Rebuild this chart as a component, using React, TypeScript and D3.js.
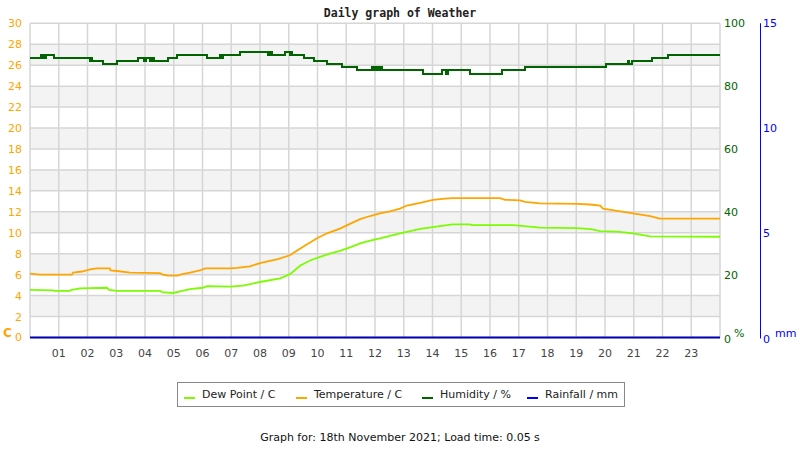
import React from "react";
import * as d3 from "d3";

// ---------- data ----------
const hourTicks = ["01","02","03","04","05","06","07","08","09","10","11","12","13","14","15","16","17","18","19","20","21","22","23"];
const tempTicks = [0,2,4,6,8,10,12,14,16,18,20,22,24,26,28,30];
const humTicks = [0,20,40,60,80,100];
const rainTicks = [0,5,10,15];

const tempTimes = [0,0.35,1.46,1.5,1.81,2.09,2.33,2.78,2.8,3.03,3.48,4.52,4.62,4.8,5.15,5.22,5.57,5.91,6.09,6.96,7.2,7.65,8.0,8.3,8.59,9.04,9.29,9.64,10.0,10.33,10.78,11.13,11.48,11.83,12.17,12.52,12.87,13.11,13.57,14.02,14.43,14.7,16.35,16.52,17.04,17.22,17.74,19.03,19.48,19.83,19.93,20.42,20.97,21.57,21.91,24];
const tempValues = [6.1,6.0,6.0,6.2,6.3,6.5,6.6,6.6,6.4,6.35,6.2,6.15,6.0,5.9,5.9,6.0,6.2,6.4,6.6,6.6,6.65,6.8,7.1,7.3,7.45,7.85,8.3,8.9,9.5,9.95,10.4,10.85,11.3,11.6,11.85,12.05,12.3,12.6,12.85,13.15,13.25,13.3,13.3,13.15,13.1,12.95,12.8,12.75,12.7,12.6,12.3,12.1,11.85,11.6,11.35,11.35];

const dewTimes = [0,0.8,0.85,1.39,1.45,1.74,2.68,2.75,3.03,4.52,4.62,4.98,5.22,5.57,6.0,6.16,6.96,7.41,8.0,8.7,9.04,9.22,9.39,9.74,10.09,10.43,10.78,11.13,11.48,11.83,12.17,12.52,12.87,13.22,13.57,14.26,14.7,15.3,15.37,16.8,17.74,19.03,19.51,19.83,20.42,20.97,21.57,24];
const dewValues = [4.55,4.5,4.45,4.45,4.55,4.7,4.75,4.55,4.45,4.45,4.3,4.25,4.4,4.62,4.75,4.9,4.85,4.95,5.3,5.65,6.05,6.45,6.85,7.35,7.7,8.0,8.28,8.6,8.98,9.25,9.46,9.7,9.94,10.15,10.38,10.64,10.8,10.8,10.73,10.73,10.5,10.45,10.35,10.15,10.1,9.94,9.65,9.62];

const humTimes = [0,0.38,0.42,0.44,0.47,0.49,0.52,0.54,0.84,2.09,2.12,2.16,2.54,3.03,3.76,3.97,4.03,4.17,4.24,4.31,4.8,5.11,6.16,6.61,6.63,6.66,6.68,6.71,7.3,8.28,8.3,8.33,8.36,8.4,8.87,9.04,9.07,9.1,9.53,9.88,10.33,10.85,11.37,11.9,11.97,12.03,12.1,12.17,12.24,13.67,14.33,14.47,14.53,15.3,16.42,17.22,20.03,20.8,20.84,20.94,21.63,22.19,24];
const humValues = [89,90,89,90,89,90,89,90,89,88,89,88,87,88,89,88,89,88,89,88,89,90,89,90,89,90,89,90,91,90,91,90,91,90,91,90,91,90,89,88,87,86,85,86,85,86,85,86,85,84,85,84,85,84,85,86,87,88,87,88,89,90,90];

const rainTimes = [0,24];
const rainValues = [0,0];

const legendItems = ["Dew Point / C","Temperature / C","Humidity / %","Rainfall / mm"];
const seriesColors = ["#7cfc00","#ffa500","#006400","#0000ff"];

// ---------- layout ----------
const W = 800, H = 450;
const L = 30, R = 720, T = 23.3, B = 337.5;
const font = "DejaVu Sans, Verdana, sans-serif";

export default function App() {
  const x = d3.scaleLinear().domain([0, 24]).range([L, R]);
  const yT = d3.scaleLinear().domain([0, 30]).range([B, T]);
  const yH = d3.scaleLinear().domain([0, 100]).range([B, T]);
  const yR = d3.scaleLinear().domain([0, 15]).range([B, T]);

  const mk = (times: number[], vals: number[], ys: d3.ScaleLinear<number, number>, curve: any) =>
    d3.line<number>().x((_, i) => x(times[i])).y((v) => ys(v)).curve(curve)(vals) || "";

  const tempPath = mk(tempTimes, tempValues, yT, d3.curveLinear);
  const dewPath = mk(dewTimes, dewValues, yT, d3.curveLinear);
  const humPath = mk(humTimes, humValues, yH, d3.curveStepAfter);
  const rainPath = mk(rainTimes, rainValues, yR, d3.curveLinear);

  const bands = tempTicks.filter((t) => t % 4 === 2 && t < 30);

  const legendX = [184, 296, 422, 527];

  return (
    <div style={{ position: "absolute", left: 0, top: 0 }}>
      <svg width={W} height={H} style={{ display: "block", background: "#fff" }} fontFamily={font}>
        {/* bands */}
        {bands.map((b) => (
          <rect key={b} x={L} y={yT(b + 2)} width={R - L} height={yT(b) - yT(b + 2)} fill="#f3f3f3" />
        ))}
        {/* horizontal grid */}
        {tempTicks.map((t) => (
          <line key={"h" + t} x1={L} x2={R} y1={yT(t)} y2={yT(t)} stroke="#d6d6d6" strokeWidth={1.5} />
        ))}
        {/* vertical grid */}
        {d3.range(0, 25).map((h) => (
          <line key={"v" + h} x1={x(h)} x2={x(h)} y1={T} y2={B} stroke="#d6d6d6" strokeWidth={1.5} />
        ))}

        {/* series */}
        <path d={humPath} fill="none" stroke={seriesColors[2]} strokeWidth={2} shapeRendering="crispEdges" />
        <path d={tempPath} fill="none" stroke={seriesColors[1]} strokeWidth={1.8} />
        <path d={dewPath} fill="none" stroke={seriesColors[0]} strokeWidth={1.8} />
        <path d={rainPath} fill="none" stroke="#0000b4" strokeWidth={2} />

        {/* left axis labels */}
        {tempTicks.map((t) => (
          <text key={"lt" + t} x={22} y={yT(t)} dy="0.36em" textAnchor="end" fontSize={11} fill="#ffa500">{t}</text>
        ))}
        <text x={3} y={337} fontSize={12} fontWeight="bold" fill="#ffa500">C</text>

        {/* humidity axis labels */}
        {humTicks.map((t) => (
          <text key={"hu" + t} x={724} y={yH(t) + (t === 0 ? 1.5 : 0)} dy="0.36em" fontSize={11} fill="#006400">{t}</text>
        ))}
        <text x={734} y={337} fontSize={11} fill="#006400">%</text>

        {/* rainfall axis */}
        <line x1={760.5} x2={760.5} y1={T} y2={B + 1} stroke="#0000ff" strokeWidth={1} />
        {rainTicks.map((t) => (
          <text key={"r" + t} x={763} y={yR(t) + (t === 0 ? 1.5 : 0)} dy="0.36em" fontSize={11} fill="#0000ff">{t}</text>
        ))}
        <text x={775} y={337} fontSize={11} fill="#0000ff">mm</text>

        {/* x labels */}
        {hourTicks.map((lab, i) => (
          <text key={"x" + lab} x={x(i + 1)} y={357} textAnchor="middle" fontSize={11} fill="#444">{lab}</text>
        ))}

        {/* title */}
        <text x={400} y={17} textAnchor="middle" fontSize={11.5} fontWeight="bold" fontFamily="DejaVu Sans Mono, monospace" fill="#222">Daily graph of Weather</text>

        {/* legend */}
        <rect x={177.5} y={382.5} width={447} height={24} fill="#fff" stroke="#888" strokeWidth={1} />
        {legendItems.map((lab, i) => (
          <g key={lab}>
            <line x1={legendX[i]} x2={legendX[i] + 11} y1={398} y2={398} stroke={seriesColors[i]} strokeWidth={2} />
            <text x={legendX[i] + 18} y={398} fontSize={11} fill="#222">{lab}</text>
          </g>
        ))}

        {/* footer */}
        <text x={400} y={441} textAnchor="middle" fontSize={11} fill="#111">Graph for: 18th November 2021; Load time: 0.05 s</text>
      </svg>
    </div>
  );
}
